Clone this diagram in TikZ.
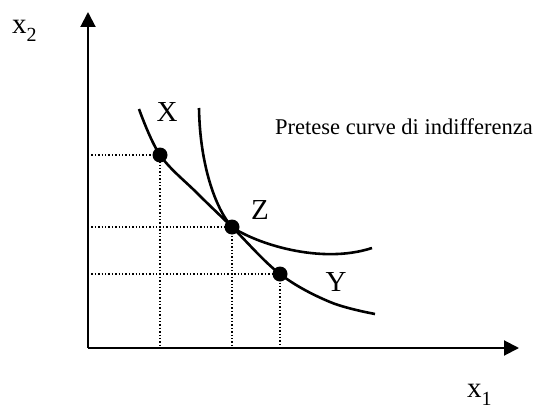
\documentclass[tikz,border=0pt]{standalone}
\usepackage{fontspec}
\setmainfont{Liberation Serif}
\usetikzlibrary{arrows.meta}
\begin{document}
\begin{tikzpicture}[x=1pt,y=-1pt,
  axis/.style={line width=2pt,-{Triangle[length=15pt,width=15pt]}},
  curve/.style={line width=2.6pt},
  guide/.style={line width=1.4pt,dotted},
  pt/.style={circle,fill=black,inner sep=0pt,minimum size=15pt},
  lbl/.style={font=\fontsize{29}{30}\selectfont,inner sep=0pt},
  small/.style={font=\fontsize{22.5}{24}\selectfont,inner sep=0pt}]
\useasboundingbox (0,0) rectangle (551,412);
\coordinate (O) at (88,348);
\coordinate (ytop) at (88,12);
\coordinate (xend) at (519,348);
% guides
\coordinate (X) at (160,155);
\coordinate (Z) at (232,227);
\coordinate (Y) at (280,274);
\draw[guide] (88,155) -- (X) -- (160,348);
\draw[guide] (88,227) -- (Z) -- (232,348);
\draw[guide] (88,274) -- (Y) -- (280,348);
% axes
\draw[axis] (O) -- (ytop);
\draw[axis] (O) -- (xend);
% curves
\draw[curve] plot[smooth,tension=0.6] coordinates {(139,109) (160,155) (197,193) (232,227) (280,274) (330,302) (375,314)};
\draw[curve] (199,108) .. controls (200,170) and (218,212) .. (Z)
                       .. controls (255,243) and (320,265) .. (372,248);
% points
\node[pt] (pX) at (X) {};
\node[pt] (pZ) at (Z) {};
\node[pt] (pY) at (Y) {};
% labels
\node[lbl] (lX) at (167,112) {X};
\node[lbl] (lZ) at (260,210) {Z};
\node[lbl] (lY) at (336,282) {Y};
\node[lbl,anchor=base west] (lx2) at (12,34) {x\raisebox{-8pt}{\fontsize{20}{20}\selectfont 2}};
\node[lbl,anchor=base west] (lx1) at (467,397) {x\raisebox{-8pt}{\fontsize{20}{20}\selectfont 1}};
\node[small,anchor=base west] (title) at (275,134) {Pretese curve di indifferenza};
\end{tikzpicture}
\end{document}
